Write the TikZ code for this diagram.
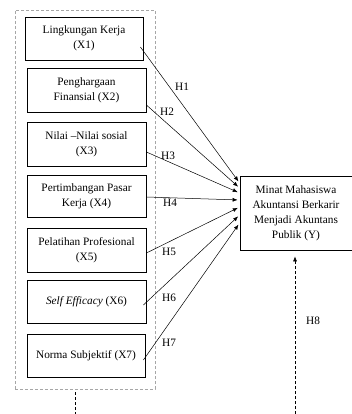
\documentclass[tikz,border=0pt]{standalone}
\usepackage{fontspec}
\setmainfont{Liberation Serif}
\usetikzlibrary{arrows.meta,calc}
\begin{document}
\begin{tikzpicture}[x=1pt,y=-1pt,
  varbox/.style={draw,line width=0.8pt,rectangle,align=center,inner sep=1pt,
    font=\fontsize{11.3}{15}\selectfont,minimum width=119pt,minimum height=44pt},
  hlab/.style={font=\fontsize{11.3}{13}\selectfont,inner sep=0pt},
  arr/.style={line width=0.5pt,-{Latex[length=5pt,width=4pt]},shorten >=2pt}]
\useasboundingbox (0,0) rectangle (351,414);
% group box
\node[draw=gray!70,densely dashed,line width=0.5pt,minimum width=140pt,minimum height=379pt,inner sep=0pt] (grp) at (85,199.5) {};
\node[varbox,minimum width=118pt,minimum height=43pt] (x1) at (84,38.5) {Lingkungan Kerja\\(X1)};
\node[varbox] (x2) at (86.5,90) {Penghargaan\\Finansial (X2)};
\node[varbox] (x3) at (86.5,144) {Nilai –Nilai sosial\\(X3)};
\node[varbox,minimum height=42pt] (x4) at (86.5,196) {Pertimbangan Pasar\\Kerja (X4)};
\node[varbox] (x5) at (86.5,250) {Pelatihan Profesional\\(X5)};
\node[varbox,minimum height=43pt] (x6) at (86.5,301.5) {\textit{Self Efficacy} (X6)};
\node[varbox,minimum width=118pt,minimum height=43pt] (x7) at (86,355.5) {Norma Subjektif (X7)};
\node[varbox,minimum width=112pt,minimum height=74pt] (y) at (296,213) {Minat Mahasiswa\\Akuntansi Berkarir\\Menjadi Akuntans\\Publik (Y)};
% arrows
\draw[arr] ($(x1.east)+(-3,8.5)$) -- ($(y.west)+(0,-30)$);
\draw[arr] ($(x2.east)+(0,15)$) -- ($(y.west)+(0,-25)$);
\draw[arr] ($(x3.east)+(0,8)$) -- ($(y.west)+(0,-20)$);
\draw[arr] ($(x4.east)+(0,1)$) -- ($(y.west)+(0,-13)$);
\draw[arr] ($(x5.east)+(0,3)$) -- ($(y.west)+(0,-6)$);
\draw[arr] ($(x6.east)+(-3,3.5)$) -- ($(y.west)+(0,2)$);
\draw[arr] ($(x7.east)+(-2,4.5)$) -- ($(y.west)+(0,10)$);
% labels
\node[hlab] (h1) at (182,87) {H1};
\node[hlab] (h2) at (167,112) {H2};
\node[hlab] (h3) at (168,156) {H3};
\node[hlab] (h4) at (170,203) {H4};
\node[hlab] (h5) at (169,252) {H5};
\node[hlab] (h6) at (169,298) {H6};
\node[hlab] (h7) at (169,343) {H7};
\node[hlab] (h8) at (313,321) {H8};
% bottom dashed lines
\coordinate (b1) at (75,414);
\coordinate (b2) at (295,414);
\draw[densely dashed,line width=0.5pt] ($(grp.south)+(-10,3)$) -- (b1);
\draw[densely dashed,line width=0.5pt,-{Latex[length=5pt,width=4pt]},shorten >=6pt] (b2) -- (b2|-y.south);
\end{tikzpicture}
\end{document}
